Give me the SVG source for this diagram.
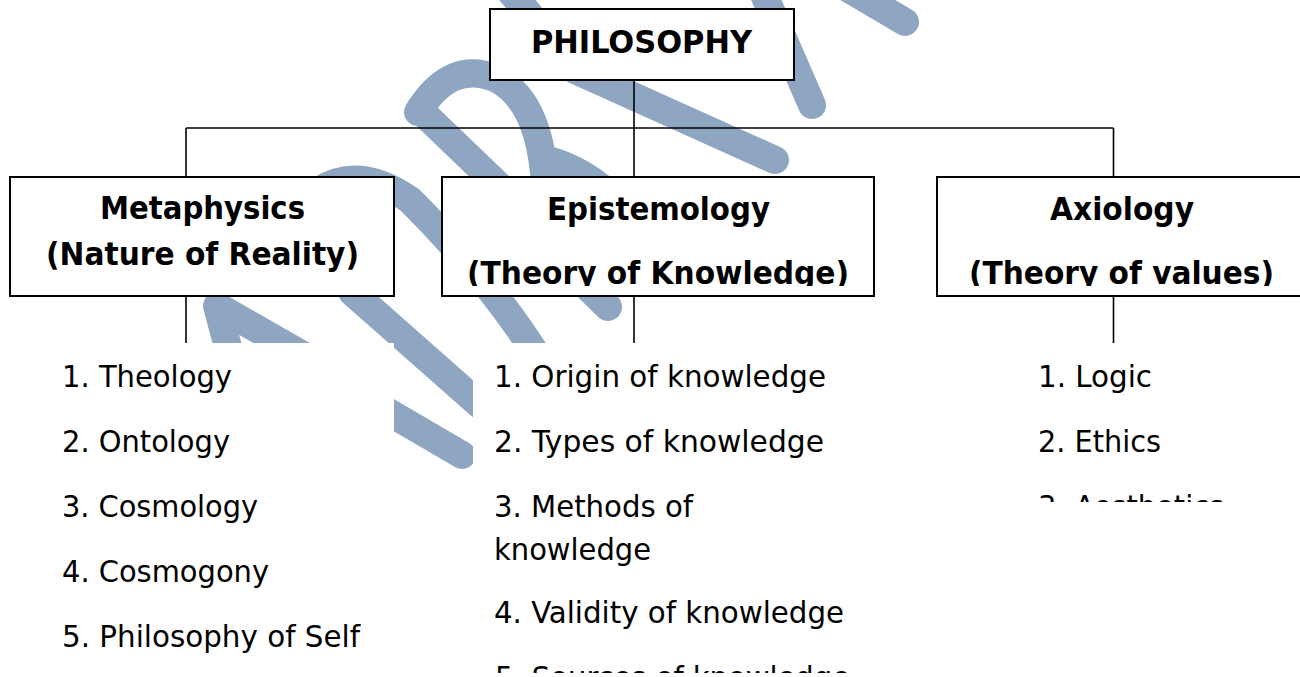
<svg xmlns="http://www.w3.org/2000/svg" width="1300" height="677" viewBox="0 0 1300 677">
<defs>
<style>
.wm{fill:none;stroke:#8fa6c2;stroke-width:28;stroke-linecap:round;stroke-linejoin:round}
.box{fill:#fff;stroke:#000;stroke-width:2}
.ln{fill:none;stroke:#000;stroke-width:1.6}
.ttl{font-family:"DejaVu Sans","Liberation Sans",sans-serif;font-stretch:condensed;font-weight:bold;font-size:32px;fill:#000}
.itm{font-family:"DejaVu Sans","Liberation Sans",sans-serif;font-stretch:condensed;font-size:30px;fill:#000}
.bg{fill:#fff}
</style>
<clipPath id="clipEpi"><rect x="442" y="176" width="432" height="110"/></clipPath>
<clipPath id="clipAxi"><rect x="937" y="176" width="370" height="110"/></clipPath>
<clipPath id="clipMid"><rect x="473" y="343" width="420" height="330"/></clipPath>
<clipPath id="clipRight"><rect x="1000" y="343" width="300" height="159"/></clipPath>
</defs>
<rect width="1300" height="677" fill="#fff"/>
<g id="watermark">
<path class="wm" stroke-width="24" d="M232,362 L217,306 L320,365"/>
<path class="wm" d="M352,292 L480,405"/>
<path class="wm" d="M320,372 L462,455"/>
<path class="wm" stroke-width="26" d="M320,190 Q360,165 410,200 Q490,280 540,360"/>
<path class="wm" stroke-width="30" d="M418,112 Q450,60 495,78 Q540,100 545,185"/>
<path class="wm" stroke-width="30" d="M420,110 L520,206"/>
<path class="wm" d="M548,160 Q585,170 615,200"/>
<path class="wm" d="M560,260 L608,307"/>
<path class="wm" stroke-width="30" d="M505,-15 L575,70 L775,160"/>
<path class="wm" stroke-width="30" d="M762,-10 L812,105"/>
<path class="wm" d="M800,-40 L905,22"/>
</g>
<g id="connectors">
<path class="ln" d="M634,80 V176"/>
<path class="ln" d="M186,128 H1113.5"/>
<path class="ln" d="M186,128 V176"/>
<path class="ln" d="M1113.5,128 V176"/>
<path class="ln" d="M186,296 V343"/>
<path class="ln" d="M634,296 V343"/>
<path class="ln" d="M1113.5,296 V343"/>
</g>
<g id="philosophy">
<rect class="box" x="490" y="9" width="304" height="71"/>
<text class="ttl" x="531" y="53" font-size="33" textLength="221" lengthAdjust="spacingAndGlyphs">PHILOSOPHY</text>
</g>
<g id="metaphysics">
<rect class="box" x="10" y="177" width="384" height="119"/>
<text class="ttl" x="100" y="219" textLength="205" lengthAdjust="spacingAndGlyphs">Metaphysics</text>
<text class="ttl" x="46" y="265" textLength="313" lengthAdjust="spacingAndGlyphs">(Nature of Reality)</text>
</g>
<g id="epistemology">
<rect class="box" x="442" y="177" width="432" height="119"/>
<text class="ttl" x="547" y="220" textLength="223" lengthAdjust="spacingAndGlyphs">Epistemology</text>
<text class="ttl" x="467" y="284" textLength="382" lengthAdjust="spacingAndGlyphs" clip-path="url(#clipEpi)">(Theory of Knowledge)</text>
</g>
<g id="axiology">
<rect class="box" x="937" y="177" width="372" height="119"/>
<text class="ttl" x="1050" y="220" textLength="144" lengthAdjust="spacingAndGlyphs">Axiology</text>
<text class="ttl" x="969" y="284" textLength="305" lengthAdjust="spacingAndGlyphs" clip-path="url(#clipAxi)">(Theory of values)</text>
</g>
<g id="metaphysics-list">
<rect class="bg" x="40" y="343" width="354" height="334"/>
<text class="itm" x="62" y="387" textLength="170" lengthAdjust="spacingAndGlyphs">1. Theology</text>
<text class="itm" x="62" y="452" textLength="168" lengthAdjust="spacingAndGlyphs">2. Ontology</text>
<text class="itm" x="62" y="517" textLength="196" lengthAdjust="spacingAndGlyphs">3. Cosmology</text>
<text class="itm" x="62" y="582" textLength="207" lengthAdjust="spacingAndGlyphs">4. Cosmogony</text>
<text class="itm" x="62" y="647" textLength="298" lengthAdjust="spacingAndGlyphs">5. Philosophy of Self</text>
</g>
<g id="epistemology-list">
<rect class="bg" x="473" y="343" width="420" height="334"/>
<g clip-path="url(#clipMid)">
<text class="itm" x="494" y="387" textLength="332" lengthAdjust="spacingAndGlyphs">1. Origin of knowledge</text>
<text class="itm" x="494" y="452" textLength="330" lengthAdjust="spacingAndGlyphs">2. Types of knowledge</text>
<text class="itm" x="494" y="517" textLength="199" lengthAdjust="spacingAndGlyphs">3. Methods of</text>
<text class="itm" x="494" y="560" textLength="157" lengthAdjust="spacingAndGlyphs">knowledge</text>
<text class="itm" x="494" y="623" textLength="350" lengthAdjust="spacingAndGlyphs">4. Validity of knowledge</text>
<text class="itm" x="495" y="688" textLength="355" lengthAdjust="spacingAndGlyphs">5. Sources of knowledge</text>
</g>
</g>
<g id="axiology-list">
<rect class="bg" x="1000" y="343" width="300" height="159"/>
<g clip-path="url(#clipRight)">
<text class="itm" x="1038" y="387" textLength="114" lengthAdjust="spacingAndGlyphs">1. Logic</text>
<text class="itm" x="1038" y="452" textLength="123" lengthAdjust="spacingAndGlyphs">2. Ethics</text>
<text class="itm" x="1038" y="517" textLength="186" lengthAdjust="spacingAndGlyphs">3. Aesthetics</text>
</g>
</g>
</svg>
